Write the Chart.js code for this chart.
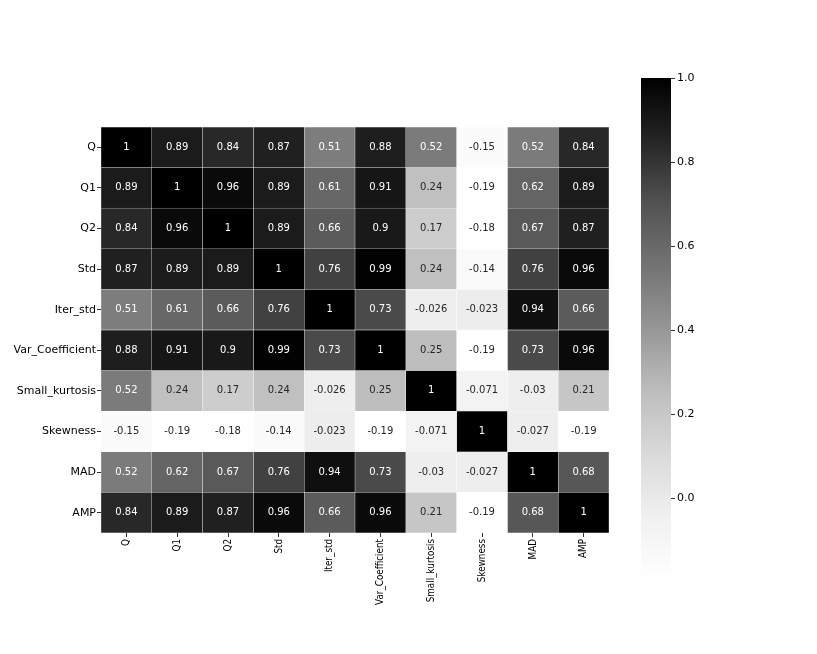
<!DOCTYPE html>
<html>
<head>
<meta charset="utf-8">
<script src="https://cdn.jsdelivr.net/npm/chart.js@4.4.1/dist/chart.umd.min.js"></script>
<style>
  html, body { margin: 0; padding: 0; background: #fff; overflow: hidden; }
  #heat { position: absolute; left: 0; top: 0; }
  #bar { position: absolute; left: 600px; top: 0; }
</style>
</head>
<body>
<canvas id="heat" width="817" height="654"></canvas>
<canvas id="bar" width="217" height="654"></canvas>
<script>
// Data
const features = ["Q", "Q1", "Q2", "Std", "Iter_std", "Var_Coefficient", "Small_kurtosis", "Skewness", "MAD", "AMP"];
const corr = [
  [1, 0.89, 0.84, 0.87, 0.51, 0.88, 0.52, -0.15, 0.52, 0.84],
  [0.89, 1, 0.96, 0.89, 0.61, 0.91, 0.24, -0.19, 0.62, 0.89],
  [0.84, 0.96, 1, 0.89, 0.66, 0.9, 0.17, -0.18, 0.67, 0.87],
  [0.87, 0.89, 0.89, 1, 0.76, 0.99, 0.24, -0.14, 0.76, 0.96],
  [0.51, 0.61, 0.66, 0.76, 1, 0.73, -0.026, -0.023, 0.94, 0.66],
  [0.88, 0.91, 0.9, 0.99, 0.73, 1, 0.25, -0.19, 0.73, 0.96],
  [0.52, 0.24, 0.17, 0.24, -0.026, 0.25, 1, -0.071, -0.03, 0.21],
  [-0.15, -0.19, -0.18, -0.14, -0.023, -0.19, -0.071, 1, -0.027, -0.19],
  [0.52, 0.62, 0.67, 0.76, 0.94, 0.73, -0.03, -0.027, 1, 0.68],
  [0.84, 0.89, 0.87, 0.96, 0.66, 0.96, 0.21, -0.19, 0.68, 1]
];
const cbTicks = [0, 0.2, 0.4, 0.6, 0.8, 1.0];
const vmin = -0.19;
const vmax = 1;

// matplotlib "Greys" colormap stops
const greys = [255, 240, 217, 189, 150, 115, 82, 37, 0];
const font = "DejaVu Sans";

function greyFor(v) {
  let t = (v - vmin) / (vmax - vmin);
  t = Math.min(1, Math.max(0, t)) * 8;
  const k = Math.min(7, Math.floor(t));
  return greys[k] + (greys[k + 1] - greys[k]) * (t - k);
}

function luminance(g) {
  const c = g / 255;
  return c <= 0.03928 ? c / 12.92 : Math.pow((c + 0.055) / 1.055, 2.4);
}

function fmt(v) {
  return String(Number(v.toPrecision(2)));
}

// Heatmap: one floating bar dataset per column
const datasets = features.map((col, j) => ({
  label: col,
  data: features.map(() => [j, j + 1]),
  backgroundColor: corr.map(row => {
    const g = Math.round(greyFor(row[j]));
    return `rgb(${g},${g},${g})`;
  }),
  borderColor: "rgba(255,255,255,0.28)",
  borderWidth: 0.5,
  borderSkipped: false,
  barPercentage: 1,
  categoryPercentage: 1,
  grouped: false
}));

// cell values + narrow rotated x labels (the figure is squeezed vertically)
const annotate = {
  id: "annotate",
  afterDatasetsDraw(chart) {
    const c = chart.ctx;
    const xs = chart.scales.x;
    const ys = chart.scales.y;
    c.save();
    c.font = `10px "${font}"`;
    c.textAlign = "center";
    c.textBaseline = "middle";
    corr.forEach((row, i) => {
      row.forEach((v, j) => {
        const lum = luminance(greyFor(v));
        c.fillStyle = lum > 0.408 ? "#262626" : "#ffffff";
        c.fillText(fmt(v), xs.getPixelForValue(j + 0.5), ys.getPixelForValue(i));
      });
    });
    c.restore();

    c.save();
    c.font = `11px "${font}"`;
    c.fillStyle = "#000";
    c.textAlign = "right";
    c.textBaseline = "middle";
    features.forEach((name, j) => {
      c.save();
      c.translate(xs.getPixelForValue(j + 0.5), chart.chartArea.bottom + 6);
      c.rotate(-Math.PI / 2);
      c.scale(0.8, 1);
      c.fillText(name, 0, 0);
      c.restore();
    });
    c.restore();
  }
};

new Chart(document.getElementById("heat"), {
  type: "bar",
  data: { labels: features, datasets },
  plugins: [annotate],
  options: {
    indexAxis: "y",
    responsive: false,
    animation: false,
    layout: { padding: { left: 0, right: 208, top: 127, bottom: 41 } },
    plugins: { legend: { display: false }, tooltip: { enabled: false } },
    scales: {
      x: {
        type: "linear",
        min: 0,
        max: features.length,
        afterBuildTicks: s => { s.ticks = features.map((_, j) => ({ value: j + 0.5 })); },
        afterFit: s => { s.height = 80; },
        ticks: { display: false, autoSkip: false },
        grid: { drawOnChartArea: false, drawTicks: true, tickLength: 4, color: "#333" },
        border: { display: false }
      },
      y: {
        type: "category",
        afterFit: s => { s.width = 101; },
        ticks: { padding: 1, color: "#000", font: { family: font, size: 11 } },
        grid: { offset: false, drawOnChartArea: false, drawTicks: true, tickLength: 4, color: "#333" },
        border: { display: false }
      }
    }
  }
});

// Colorbar
new Chart(document.getElementById("bar"), {
  type: "bar",
  data: {
    labels: ["cb"],
    datasets: [{
      data: [[vmin, vmax]],
      backgroundColor: ctx => {
        const area = ctx.chart.chartArea;
        if (!area) return "#888";
        const g = ctx.chart.ctx.createLinearGradient(0, area.bottom, 0, area.top);
        greys.forEach((c, k) => g.addColorStop(k / 8, `rgb(${c},${c},${c})`));
        return g;
      },
      borderWidth: 0,
      barPercentage: 1,
      categoryPercentage: 1
    }]
  },
  options: {
    responsive: false,
    animation: false,
    layout: { padding: { left: 41, right: 0, top: 78, bottom: 76 } },
    plugins: { legend: { display: false }, tooltip: { enabled: false } },
    scales: {
      x: { display: false },
      y: {
        position: "right",
        min: vmin,
        max: vmax,
        afterBuildTicks: s => { s.ticks = cbTicks.map(v => ({ value: v })); },
        afterFit: s => { s.width = 146; },
        ticks: {
          padding: 2,
          color: "#000",
          font: { family: font, size: 11 },
          callback: v => v.toFixed(1)
        },
        grid: { drawOnChartArea: false, drawTicks: true, tickLength: 4, color: "#333" },
        border: { display: false }
      }
    }
  }
});
</script>
</body>
</html>
